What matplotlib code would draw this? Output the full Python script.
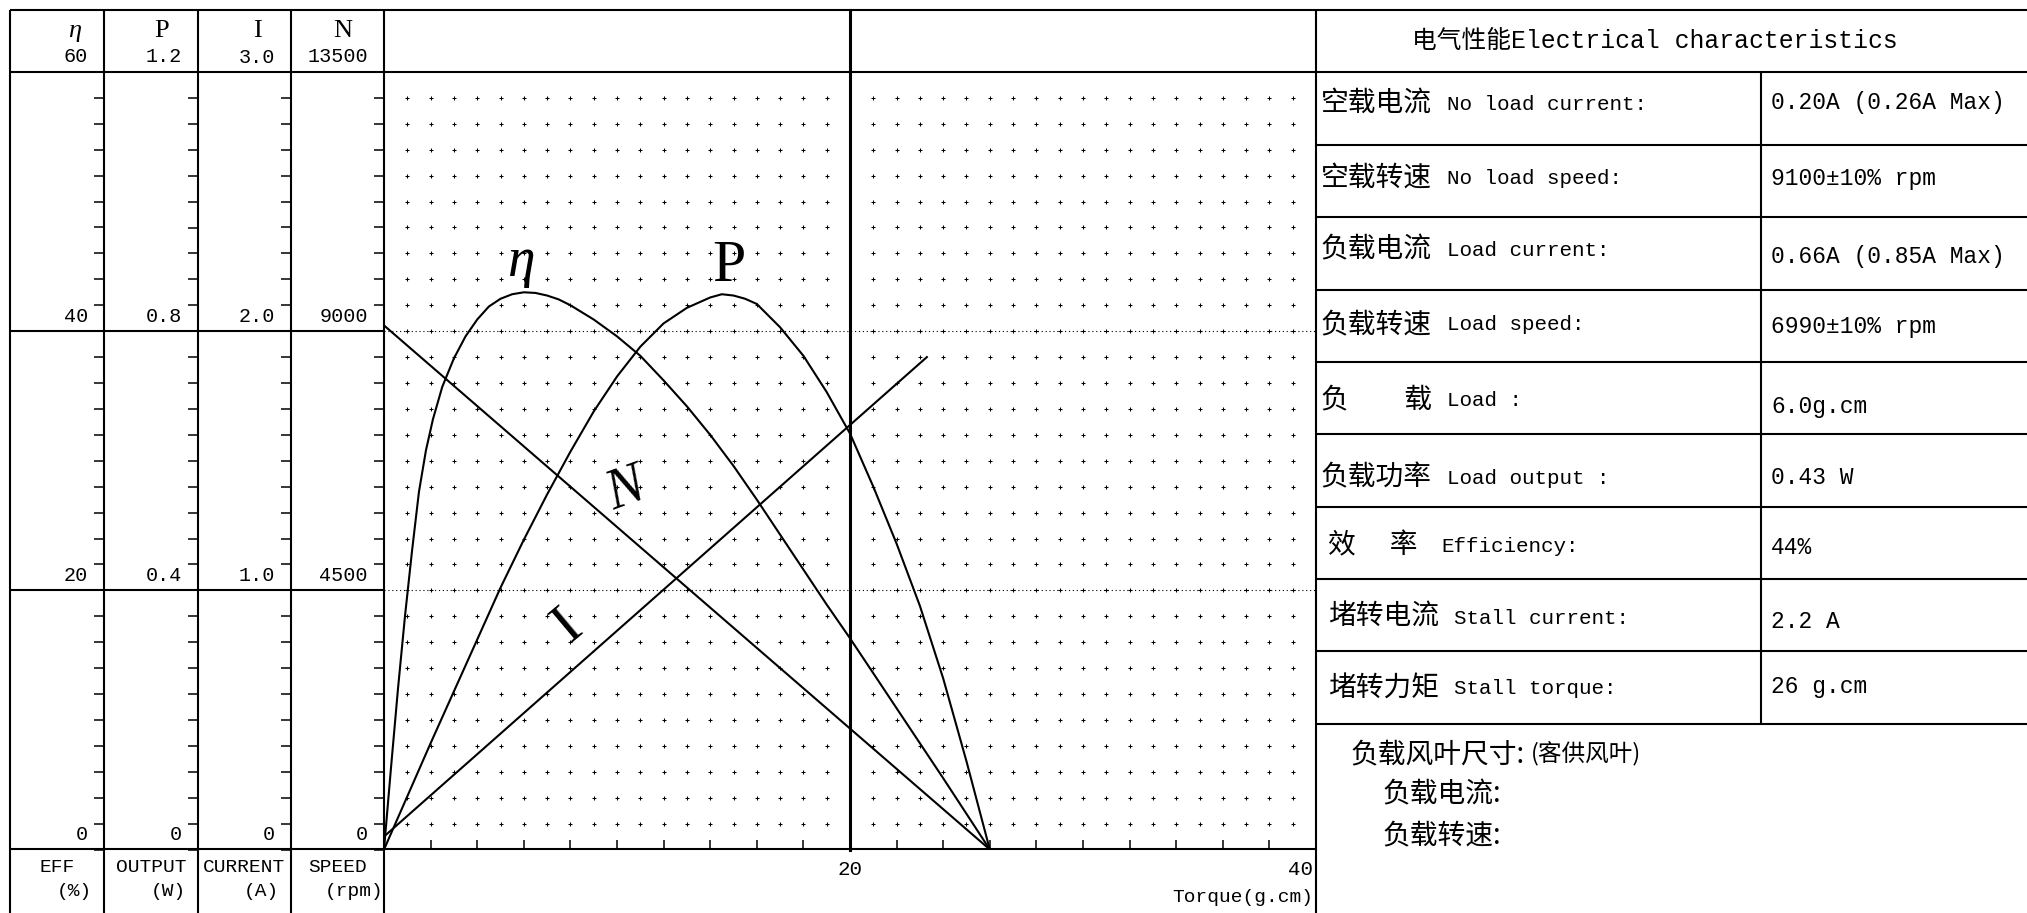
import numpy as np
import matplotlib
matplotlib.use("Agg")
import matplotlib.pyplot as plt

plt.rcParams['font.family'] = ['Liberation Mono', 'Noto Sans CJK SC', 'DejaVu Sans']

W, H = 2027, 913

# ==================
# data
# ==================

# efficiency curve (%)
eta_torque = [0, 0.3, 0.6, 0.9, 1.2, 1.5, 1.8, 2.1, 2.5, 3.0, 3.5, 4.0, 4.5, 5.0, 5.5, 6.0,
              6.5, 7.0, 7.5, 8.0, 9.0, 10.0, 11.0, 12.0, 13.0, 14.0, 15.0, 16.0, 17.0,
              18.0, 19.0, 20.0, 21.0, 22.0, 23.0, 24.0, 25.0, 26.0]
eta_pct = [0, 6.3, 12.4, 18.0, 23.0, 27.6, 30.8, 33.2, 35.7, 37.9, 39.6, 40.9, 41.9, 42.5,
           42.85, 43.0, 42.95, 42.75, 42.45, 42.0, 40.9, 39.6, 38.1, 36.2, 34.2, 32.0,
           29.6, 27.0, 24.3, 21.6, 18.9, 16.3, 13.6, 10.9, 8.2, 5.5, 2.75, 0]

# output power curve (W)
p_torque = [0, 1, 2, 3, 4, 5, 6, 7, 8, 9, 10, 11, 12, 13, 14, 14.5, 15, 15.5, 16, 17, 18,
            19, 20, 21, 22, 23, 24, 25, 26]
p_watt = [0, 0.082, 0.164, 0.244, 0.324, 0.404, 0.478, 0.548, 0.614, 0.676, 0.730, 0.776,
          0.812, 0.836, 0.852, 0.857, 0.855, 0.850, 0.842, 0.806, 0.762, 0.706, 0.642,
          0.560, 0.472, 0.376, 0.264, 0.136, 0]

# current (A) and speed (rpm)
i_torque = [0, 23.3]
i_amp = [0.05, 1.90]
n_torque = [0, 26]
n_rpm = [9100, 0]

# left scale columns
scale_names = ["η", "P", "I", "N"]
scale_max = [60, 1.2, 3.0, 13500]
scale_labels = [["0", "20", "40", "60"],
                ["0", "0.4", "0.8", "1.2"],
                ["0", "1.0", "2.0", "3.0"],
                ["0", "4500", "9000", "13500"]]
unit_top = ["EFF", "OUTPUT", "CURRENT", "SPEED"]
unit_bottom = ["(%)", "(W)", "(A)", "(rpm)"]

torque_ticks = list(range(2, 40, 2))

# table
table_title = "电气性能Electrical characteristics"
spec_cn = ["空载电流", "空载转速", "负载电流", "负载转速", "负　　载",
           "负载功率", "效　 率", "堵转电流", "堵转力矩"]
spec_en = ["No load current:", "No load speed:", "Load current:", "Load speed:",
           "Load :", "Load output :", "Efficiency:", "Stall current:", "Stall torque:"]
spec_values = ["0.20A (0.26A Max)", "9100±10% rpm", "0.66A (0.85A Max)", "6990±10% rpm",
               "6.0g.cm", "0.43 W", "44%", "2.2 A", "26 g.cm"]
note_head = "负载风叶尺寸:"
note_sub = "(客供风叶)"
note_lines = ["负载电流:", "负载转速:"]

# ==================
# layout
# ==================

def fa(x0, y0, x1, y1):
    return [x0 / W, 1 - y1 / H, (x1 - x0) / W, (y1 - y0) / H]

PX = 0.72  # points per pixel at dpi 100
LW = 1.5
X0, Y0, X1, Y1 = 384, 72, 1316, 849.5
cols = [10, 104, 198, 291, 384]
rows = [72, 145, 217, 290, 362, 434, 507, 579, 651, 724]

fig = plt.figure(figsize=(W / 100, H / 100), dpi=100)
bg = fig.add_axes([0, 0, 1, 1])
bg.set_xlim(0, W)
bg.set_ylim(H, 0)
bg.axis("off")

# frame lines
bg.hlines(10, 10, W, color="k", lw=LW)
bg.hlines(72, 10, W, color="k", lw=LW)
bg.hlines(Y1, 10, X1, color="k", lw=LW)
bg.vlines(cols + [X1], 10, H, color="k", lw=LW)
bg.hlines(rows[1:], X1, W, color="k", lw=LW)
bg.vlines(1761, 72, rows[-1], color="k", lw=LW)

# ==================
# main plot
# ==================

ax = fig.add_axes(fa(X0, Y0, X1, Y1))
ax.set_xlim(0, 40)
ax.set_ylim(0, 60)
ax.patch.set_alpha(0)
for s in ax.spines.values():
    s.set_visible(False)
ax.set_yticks([])
ax.set_xticks(torque_ticks)
ax.tick_params(axis="x", direction="in", length=10 * PX, width=1.1, labelbottom=False)

gx, gy = np.meshgrid([x for x in range(1, 40) if x != 20], range(2, 60, 2))
ax.plot(gx.ravel(), gy.ravel(), ls="none", marker="+", ms=3.4, mew=0.75, color="k")
for v in (20, 40):
    ax.axhline(v, color="k", lw=0.8, ls=(0, (1, 2.5)))
ax.plot([20, 20], [0, 60 * (Y1 - 10) / (Y1 - Y0)], color="k", lw=2.2, clip_on=False)

ax.plot(eta_torque, eta_pct, color="k", lw=LW)
axp = ax.twinx()
axp.set_ylim(0, scale_max[1])
axp.axis("off")
axp.plot(p_torque, p_watt, color="k", lw=LW)
axi = ax.twinx()
axi.set_ylim(0, scale_max[2])
axi.axis("off")
axi.plot(i_torque, i_amp, color="k", lw=LW)
axn = ax.twinx()
axn.set_ylim(0, scale_max[3])
axn.axis("off")
axn.plot(n_torque, n_rpm, color="k", lw=LW)

ax.annotate("20", xy=(20, 0), xytext=(0, -20 * PX), textcoords="offset points",
            ha="center", va="center", fontsize=15)
ax.annotate("40", xy=(40, 0), xytext=(-3 * PX, -20 * PX), textcoords="offset points",
            ha="right", va="center", fontsize=15)
ax.annotate("Torque(g.cm)", xy=(40, 0), xytext=(-3 * PX, -48 * PX), textcoords="offset points",
            ha="right", va="center", fontsize=14)

# curve names
bg.text(521, 262, "η", fontsize=40, family="Liberation Serif", style="italic", ha="center", va="center")
bg.text(729, 267, "P", fontsize=43, family="Liberation Serif", ha="center", va="center")
bg.text(626, 491, "N", fontsize=40, family="Liberation Serif", style="italic", rotation=20,
        ha="center", va="center")
bg.text(568, 626, "I", fontsize=42, family="Liberation Serif", rotation=40, ha="center", va="center")

# ==================
# left scales
# ==================

sym_dx = [-29, -36, -34, -41]
for k in range(4):
    cax = fig.add_axes(fa(cols[k], Y0, cols[k + 1], Y1))
    cax.set_xlim(0, 1)
    cax.set_ylim(0, scale_max[k])
    cax.patch.set_alpha(0)
    for s in cax.spines.values():
        s.set_visible(False)
    cax.set_xticks([])
    cax.yaxis.tick_right()
    cax.set_yticks(np.linspace(0, scale_max[k], 31))
    cax.tick_params(axis="y", direction="in", length=10 * PX, width=1.1,
                    labelright=False, labelleft=False)
    for j, lab in enumerate(scale_labels[k]):
        v = scale_max[k] * j / 3
        if 0 < j < 3:
            cax.axhline(v, color="k", lw=LW)
        cax.annotate(lab, xy=(1, v), xycoords=("axes fraction", "data"),
                     xytext=(-16 * PX, 15 * PX), textcoords="offset points",
                     ha="right", va="center", fontsize=14.5)
    cax.annotate(scale_names[k], xy=(1, scale_max[k]), xycoords=("axes fraction", "data"),
                 xytext=(sym_dx[k] * PX, 41 * PX), textcoords="offset points",
                 ha="center", va="center", fontsize=19, family="Liberation Serif",
                 style="italic" if k == 0 else "normal")
    cx = (cols[k] + cols[k + 1]) / 2
    bg.text(cx, 868, unit_top[k], ha="center", va="center", fontsize=14)
    bg.text(cx + 17, 891, unit_bottom[k], ha="center", va="center", fontsize=14)

# ==================
# table
# ==================

bg.text(1655, 41, table_title, ha="center", va="center", fontsize=17.8)
cn_x = [1321, 1321, 1321, 1321, 1321, 1321, 1328, 1328, 1328]
en_x = [1447, 1447, 1447, 1447, 1447, 1447, 1441, 1454, 1454]
name_y = [103, 178, 249, 324, 399, 477, 545, 617, 688]
value_y = [103, 178, 256, 327, 407, 478, 548, 622, 686]
for k in range(len(spec_cn)):
    bg.text(cn_x[k], name_y[k], spec_cn[k], ha="left", va="center", fontsize=20,
            family="Noto Sans CJK SC")
    bg.text(en_x[k], name_y[k] + 1, spec_en[k], ha="left", va="center", fontsize=15)
    bg.text(1771, value_y[k], spec_values[k], ha="left", va="center", fontsize=16.5)

bg.text(1351, 754, note_head, ha="left", va="center", fontsize=20, family="Noto Sans CJK SC")
bg.text(1531, 754, note_sub, ha="left", va="center", fontsize=17, family="Noto Sans CJK SC")
bg.text(1383, 794, note_lines[0], ha="left", va="center", fontsize=20, family="Noto Sans CJK SC")
bg.text(1383, 835, note_lines[1], ha="left", va="center", fontsize=20, family="Noto Sans CJK SC")

fig.savefig("out.png", dpi=100)
